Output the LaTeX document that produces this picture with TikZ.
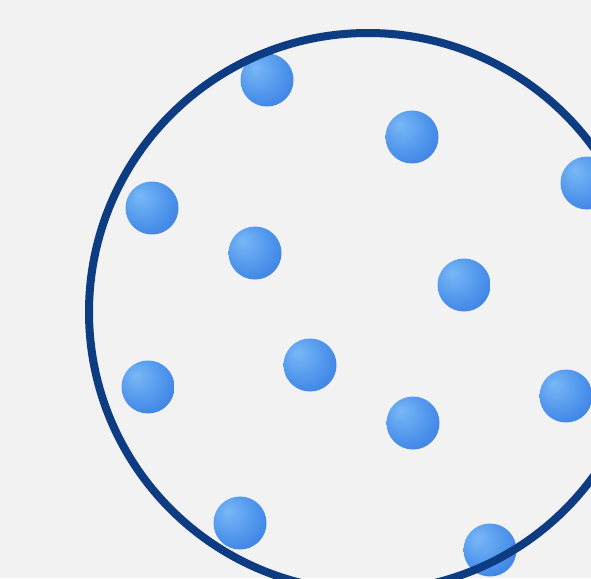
\documentclass[tikz,border=0pt]{standalone}
\usepackage{tikz}
\usetikzlibrary{shapes.geometric, positioning, calc, backgrounds}

\definecolor{paper}{HTML}{F2F2F2}
\definecolor{rim}{HTML}{0D3C82}
\definecolor{ballhi}{HTML}{78B8F6}
\definecolor{ballmid}{HTML}{4A90EA}
\definecolor{balllo}{HTML}{2B69D8}

\pgfdeclareradialshading{sphere}{\pgfpoint{-12bp}{12bp}}{%
    color(0bp)=(ballhi); color(26bp)=(ballmid);
    color(50bp)=(balllo); color(65bp)=(balllo)}

\begin{document}
\begin{tikzpicture}[
    x=1pt, y=-1pt,
    % Estilo para las particulas
    particle/.style={
        circle,
        minimum size=53pt,
        inner sep=0pt,
        shading=sphere
    },
    % Estilo para el recipiente
    vessel/.style={
        circle,
        draw=rim,
        line width=8pt,
        minimum size=558pt,
        inner sep=0pt
    }
]

    % ==========================================
    % FONDO
    % ==========================================
    \fill[paper] (0,0) rectangle (591,578);
    \useasboundingbox (0,0) rectangle (591,578);
    \clip (0,0) rectangle (591,578);

    % ==========================================
    % PARTICULAS
    % ==========================================
    \foreach \name/\px/\py in {p1/267/80, p2/412/137, p3/152/208, p4/587/183,
                               p5/255/253, p6/464/285, p7/310/365, p8/148/387,
                               p9/413/423, p10/566/396, p11/240/523, p12/490/550}
        \node[particle] (\name) at (\px,\py) {};

    % ==========================================
    % RECIPIENTE
    % ==========================================
    \node[vessel] (box) at (368,312) {};

\end{tikzpicture}
\end{document}
